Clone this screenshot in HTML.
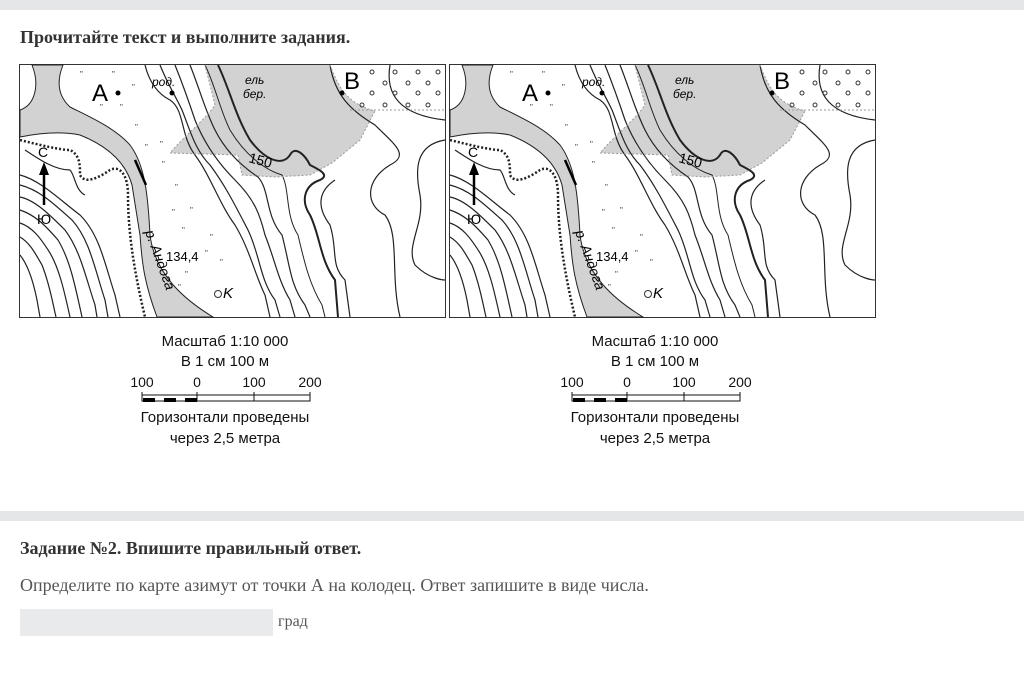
<!DOCTYPE html>
<html><head><meta charset="utf-8"><style>
body{margin:0;width:1024px;height:683px;background:#fff;font-family:"Liberation Serif",serif;position:relative;overflow:hidden}
.bar{position:absolute;left:0;width:1024px;background:#e4e6e8}
.t{position:absolute;color:#333}
svg text{font-family:"Liberation Sans",sans-serif}
</style></head><body>
<div class="bar" style="top:0;height:10px"></div>
<div class="t" style="left:20px;top:27px;font-weight:bold;font-size:18px">Прочитайте текст и выполните задания.</div>
<div class="bar" style="top:511px;height:10px"></div>
<div class="t" style="left:20px;top:538px;font-weight:bold;font-size:18px">Задание №2. Впишите правильный ответ.</div>
<div class="t" style="left:20px;top:575px;font-size:18px;color:#555">Определите по карте азимут от точки А на колодец. Ответ запишите в виде числа.</div>
<div style="position:absolute;left:20px;top:609px;width:253px;height:27px;background:#e8eaec"></div>
<div class="t" style="left:278px;top:613px;font-size:16px;color:#555">град</div>

<svg width="1024" height="683" style="position:absolute;left:0;top:0" xmlns="http://www.w3.org/2000/svg">
<defs>
<g id="map">
<rect x="0" y="0" width="425" height="252" fill="#fff"/>
<path d="M185,0 L310,0 C318,20 325,38 355,46 L340,75 L312,98 L290,110 L255,112 L222,110 L218,90 L150,88 C165,70 185,55 195,40 Z" fill="#d2d2d2"/>
<path d="M12,0 L43,0 C37,15 37,30 50,42 C70,52 95,63 110,80 C125,100 128,130 130,170 C135,210 165,235 193,252 L137,252 C125,220 122,200 120,170 L112,120 C105,95 85,80 60,70 C40,66 20,68 0,72 L0,45 C15,40 20,20 12,0 Z" fill="#d2d2d2" stroke="#222" stroke-width="1"/>
<g fill="none" stroke="#222" stroke-width="1.2">
<path d="M125,0 C130,20 140,30 150,35 C165,45 160,70 175,90 C190,110 200,140 215,160 C230,185 235,210 245,230 L250,252"/>
<path d="M140,0 C148,20 155,30 162,45 C170,65 175,85 190,100 C205,120 215,140 228,165 C240,190 240,215 255,235 L260,252"/>
<path d="M155,0 C165,25 170,40 175,55 C185,80 200,100 215,115 C235,135 240,150 245,170 C255,195 258,215 270,235 L275,252"/>
<path d="M170,0 C180,25 185,45 195,65 C205,85 220,100 238,112 C250,125 245,150 262,170 C270,200 270,220 285,240 L290,252"/>
<path d="M185,0 C195,20 200,45 210,65 C225,90 245,105 262,110 C270,125 265,150 278,170 C285,200 290,220 302,240 L305,252" stroke-width="1"/>
<path d="M198,0 C210,25 215,50 230,75 C245,95 262,102 270,90 C275,80 285,90 290,100 C300,105 310,110 300,115 C285,120 280,135 290,150 C300,170 300,195 315,215 L318,252" stroke-width="2"/>
<path d="M315,115 C300,125 295,140 310,160 C318,185 310,200 325,215 L330,252"/>
<path d="M310,0 C315,30 330,45 355,60 C375,80 390,90 370,100 C345,115 345,140 365,150 C380,170 370,210 380,252"/>
<path d="M425,75 C395,80 395,105 400,130 C405,160 385,180 395,200 C410,215 425,215 425,215"/>
<path d="M370,0 C365,30 380,50 425,55"/>
<path d="M0,110 C20,115 40,135 60,150 C80,170 85,200 95,230 L100,252"/>
<path d="M0,120 C20,125 35,140 52,155 C70,175 75,205 85,235 L88,252"/>
<path d="M0,132 C15,135 30,150 45,165 C60,185 65,210 75,240 L77,252"/>
<path d="M0,145 C15,150 25,160 38,175 C50,195 55,220 62,252"/>
<path d="M0,158 C12,162 20,172 30,188 C40,205 45,230 50,252"/>
<path d="M0,172 C10,178 15,188 22,200 C30,220 33,240 36,252"/>
<path d="M0,190 C8,200 13,215 17,235 L20,252"/>
<path d="M0,75 C20,80 40,85 50,85 C60,90 60,100 60,110 C65,120 80,112 90,105 C100,100 108,110 108,130 C108,170 115,210 125,252" stroke-dasharray="2 2" stroke-width="2.5"/>
<path d="M5,85 C20,95 35,105 50,105 C55,110 55,125 65,130"/>
</g>
<path d="M310,0 C318,20 325,38 355,46 L340,75 L312,98 L290,110 L255,112 L222,110 L218,90 L150,88 C165,70 185,55 195,40 L185,0" fill="none" stroke="#999" stroke-dasharray="2 2"/>
<path d="M330,45 L425,45" stroke="#999" stroke-dasharray="2 2"/>
<g fill="none" stroke="#333" stroke-width="1">
<circle cx="352" cy="7" r="2"/><circle cx="375" cy="7" r="2"/><circle cx="398" cy="7" r="2"/><circle cx="418" cy="7" r="2"/>
<circle cx="365" cy="18" r="2"/><circle cx="388" cy="18" r="2"/><circle cx="408" cy="18" r="2"/>
<circle cx="352" cy="28" r="2"/><circle cx="375" cy="28" r="2"/><circle cx="398" cy="28" r="2"/><circle cx="418" cy="28" r="2"/>
<circle cx="342" cy="40" r="2"/><circle cx="365" cy="40" r="2"/><circle cx="388" cy="40" r="2"/><circle cx="408" cy="40" r="2"/>
<circle cx="198" cy="229" r="3.5"/>
</g>
<circle cx="98" cy="28" r="2.5" fill="#000"/><circle cx="152" cy="28" r="2.5" fill="#000"/><circle cx="322" cy="28" r="2.5" fill="#000"/>
<path d="M115,95 L126,120" stroke="#000" stroke-width="2.5"/>
<path d="M24,140 L24,106" stroke="#000" stroke-width="2.5"/><path d="M19,110 L24,97 L29,110Z" fill="#000"/>
<g fill="#333" font-size="8">
<text x="60" y="12">"</text><text x="92" y="12">"</text><text x="112" y="25">"</text><text x="80" y="45">"</text><text x="100" y="45">"</text><text x="115" y="65">"</text><text x="125" y="85">"</text><text x="140" y="82">"</text><text x="142" y="102">"</text><text x="155" y="125">"</text><text x="170" y="148">"</text><text x="152" y="150">"</text><text x="190" y="175">"</text><text x="162" y="168">"</text><text x="165" y="212">"</text><text x="200" y="200">"</text><text x="185" y="191">"</text><text x="158" y="225">"</text>
</g>
</g>
</defs>
<rect x="19.5" y="64.5" width="426" height="253" fill="none" stroke="#333"/>
<rect x="449.5" y="64.5" width="426" height="253" fill="none" stroke="#333"/>
<use href="#map" x="20" y="65"/>
<use href="#map" x="450" y="65"/>
<g>
<text x="92" y="101" font-size="24">А</text>
<text x="344" y="89" font-size="24">В</text>
<text x="152" y="86" font-size="12" font-style="italic">род.</text>
<text x="245" y="84" font-size="12" font-style="italic">ель</text>
<text x="243" y="98" font-size="12" font-style="italic">бер.</text>
<text x="248" y="162" font-size="14" transform="rotate(15 248 162)">150</text>
<text x="38" y="157" font-size="14">С</text>
<text x="37" y="224" font-size="14">Ю</text>
<text x="166" y="261" font-size="13">134,4</text>
<text x="223" y="298" font-size="15" font-style="italic" font-family="Liberation Serif">K</text>
<text x="145" y="232" font-size="14" font-style="italic" font-family="Liberation Serif" transform="rotate(70 145 232)">р. Андога</text>
</g>
<g transform="translate(430,0)">
<text x="92" y="101" font-size="24">А</text>
<text x="344" y="89" font-size="24">В</text>
<text x="152" y="86" font-size="12" font-style="italic">род.</text>
<text x="245" y="84" font-size="12" font-style="italic">ель</text>
<text x="243" y="98" font-size="12" font-style="italic">бер.</text>
<text x="248" y="162" font-size="14" transform="rotate(15 248 162)">150</text>
<text x="38" y="157" font-size="14">С</text>
<text x="37" y="224" font-size="14">Ю</text>
<text x="166" y="261" font-size="13">134,4</text>
<text x="223" y="298" font-size="15" font-style="italic" font-family="Liberation Serif">K</text>
<text x="145" y="232" font-size="14" font-style="italic" font-family="Liberation Serif" transform="rotate(70 145 232)">р. Андога</text>
</g>
<g font-size="15" fill="#111" text-anchor="middle">
<text x="225" y="346">Масштаб 1:10 000</text>
<text x="225" y="366">В 1 см 100 м</text>
<text x="142" y="387" font-size="14">100</text><text x="197" y="387" font-size="14">0</text><text x="254" y="387" font-size="14">100</text><text x="310" y="387" font-size="14">200</text>
<text x="225" y="422">Горизонтали проведены</text>
<text x="225" y="443">через 2,5 метра</text>
</g>
<g transform="translate(430,0)" font-size="15" fill="#111" text-anchor="middle">
<text x="225" y="346">Масштаб 1:10 000</text>
<text x="225" y="366">В 1 см 100 м</text>
<text x="142" y="387" font-size="14">100</text><text x="197" y="387" font-size="14">0</text><text x="254" y="387" font-size="14">100</text><text x="310" y="387" font-size="14">200</text>
<text x="225" y="422">Горизонтали проведены</text>
<text x="225" y="443">через 2,5 метра</text>
</g>
<g id="sb">
<rect x="142" y="395" width="168" height="6" fill="none" stroke="#111"/>
<path d="M197,392 V401 M254,392 V401 M142,392 V401 M310,392 V401" stroke="#111"/>
<rect x="143" y="398" width="12" height="4" fill="#000"/><rect x="164" y="398" width="12" height="4" fill="#000"/><rect x="185" y="398" width="12" height="4" fill="#000"/>
</g>
<use href="#sb" x="430" y="0"/>
</svg>
</body></html>
